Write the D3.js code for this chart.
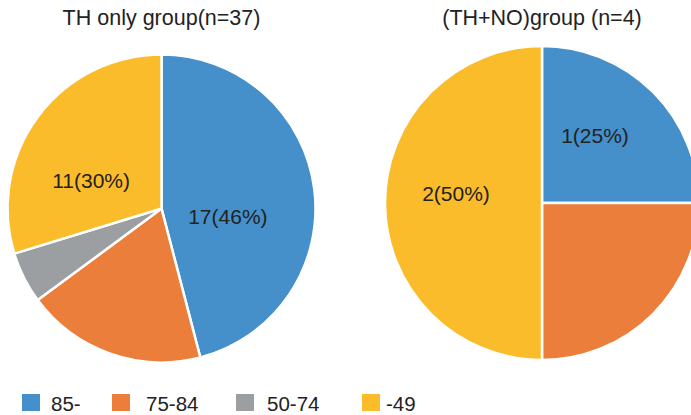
<!DOCTYPE html>
<html>
<head>
<meta charset="utf-8">
<script src="https://cdn.jsdelivr.net/npm/d3@7"></script>
<style>
  html, body { margin: 0; padding: 0; background: #fff; }
  svg { display: block; font-family: "Liberation Sans", Arial, Helvetica, sans-serif; }
</style>
</head>
<body>
<svg id="chart" width="691" height="415"></svg>
<script>
// Age groups and case counts per treatment group
const categories = ["85-", "75-84", "50-74", "-49"];
const colors = ["#4590ca", "#ea7e3a", "#9c9fa1", "#fbbc2b"];

const thOnlyTitle = "TH only group(n=37)";
const thOnlyValues = [17, 7, 2, 11];
const thOnlyLabelled = ["85-", "-49"];

const thNoTitle = "(TH+NO)group (n=4)";
const thNoValues = [1, 1, 0, 2];
const thNoLabelled = ["85-", "-49"];

const svg = d3.select("#chart");
const color = d3.scaleOrdinal().domain(categories).range(colors);

// geometry for each pie, with small nudges for the value labels
const pies = [
  { title: thOnlyTitle, values: thOnlyValues, labelled: thOnlyLabelled,
    cx: 161.5, cy: 208.5, r: 154, titleY: 25,
    nudge: { "85-": [-10, 18], "-49": [-8.5, 18] } },
  { title: thNoTitle, values: thNoValues, labelled: thNoLabelled,
    cx: 542, cy: 203, r: 157, titleY: 25,
    nudge: { "85-": [-2.5, -12], "-49": [-7.5, -10] } }
];

const pie = d3.pie().sort(null).value(d => d.value);

pies.forEach(p => {
  const data = categories.map((c, i) => ({ cat: c, value: p.values[i] }));
  const total = d3.sum(p.values);
  const arcs = pie(data);
  const arc = d3.arc().innerRadius(0).outerRadius(p.r);
  const labelArc = d3.arc().innerRadius(p.r * 0.5).outerRadius(p.r * 0.5);

  const g = svg.append("g").attr("transform", `translate(${p.cx},${p.cy})`);

  g.selectAll("path")
    .data(arcs.filter(a => a.data.value > 0))
    .join("path")
    .attr("d", arc)
    .attr("fill", d => color(d.data.cat))
    .attr("stroke", "#fff")
    .attr("stroke-width", 2.5)
    .attr("stroke-linejoin", "round");

  g.selectAll("text.val")
    .data(arcs.filter(a => p.labelled.includes(a.data.cat)))
    .join("text")
    .attr("class", "val")
    .attr("x", d => labelArc.centroid(d)[0] + p.nudge[d.data.cat][0])
    .attr("y", d => labelArc.centroid(d)[1] + p.nudge[d.data.cat][1])
    .attr("text-anchor", "middle")
    .attr("dominant-baseline", "central")
    .attr("font-size", 21)
    .attr("fill", "#222")
    .text(d => `${d.data.value}(${Math.round(d.data.value / total * 100)}%)`);

  svg.append("text")
    .attr("x", p.cx)
    .attr("y", p.titleY)
    .attr("text-anchor", "middle")
    .attr("font-size", 21.5)
    .attr("fill", "#222")
    .text(p.title);
});

// legend along the bottom: swatch position and text offset per item
const legendLayout = {
  "85-":   { x: 22,  tx: 29 },
  "75-84": { x: 112, tx: 34 },
  "50-74": { x: 236, tx: 31 },
  "-49":   { x: 362, tx: 24 }
};
const legend = svg.append("g").attr("transform", "translate(0,394)");
const item = legend.selectAll("g")
  .data(categories)
  .join("g")
  .attr("transform", d => `translate(${legendLayout[d].x},0)`);
item.append("rect")
  .attr("width", 18).attr("height", 17)
  .attr("fill", d => color(d));
item.append("text")
  .attr("x", d => legendLayout[d].tx)
  .attr("y", 9)
  .attr("dominant-baseline", "central")
  .attr("font-size", 20.5)
  .attr("fill", "#222")
  .text(d => d);
</script>
</body>
</html>
